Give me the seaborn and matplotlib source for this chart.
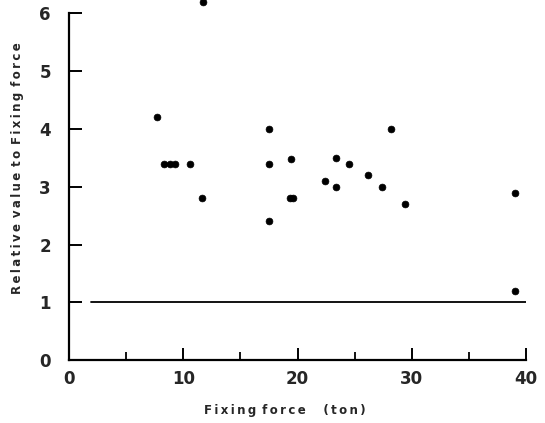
import matplotlib
matplotlib.use("Agg")
import matplotlib.pyplot as plt
import seaborn as sns
import pandas as pd
from matplotlib.ticker import MultipleLocator

# Data
fixing_force = [7.7, 8.3, 8.8, 9.25, 10.6, 11.65, 11.7,
                17.5, 17.5, 17.5, 19.45, 19.3, 19.6,
                22.4, 23.4, 23.4, 24.5, 26.15, 28.15, 27.4, 29.4,
                39.0, 39.0]
relative_value = [4.2, 3.4, 3.4, 3.4, 3.4, 2.8, 6.2,
                  4.0, 3.4, 2.4, 3.48, 2.8, 2.8,
                  3.1, 3.5, 3.0, 3.4, 3.2, 4.0, 3.0, 2.7,
                  2.9, 1.2]
ref_x = [1.9, 40.0]
ref_y = [1.0, 1.0]
x_ticks = [0, 10, 20, 30, 40]
y_ticks = [0, 1, 2, 3, 4, 5, 6]

sns.set_theme(style="white")
plt.rcParams['font.family'] = ['DejaVu Sans']

fig = plt.figure(figsize=(5.45, 4.23), dpi=100)
ax = fig.add_axes([69/545, 1-360/423, (526-69)/545, (360-13.5)/423])

df = pd.DataFrame({"x": fixing_force, "y": relative_value})
sns.scatterplot(data=df, x="x", y="y", color="black", s=24, edgecolor="black",
                linewidth=0.5, ax=ax, clip_on=False, zorder=3)
sns.lineplot(x=ref_x, y=ref_y, color="black", linewidth=1.3, ax=ax)

ax.set_xlim(0, 40)
ax.set_ylim(0, 6)
ax.set_xticks(x_ticks)
ax.set_yticks(y_ticks)
ax.xaxis.set_minor_locator(MultipleLocator(5))

for s in ["top", "right"]:
    ax.spines[s].set_visible(False)
for s in ["left", "bottom"]:
    ax.spines[s].set_linewidth(1.6)
    ax.spines[s].set_color("black")

ax.tick_params(axis="both", which="major", direction="in", length=9, width=1.4,
               color="black", labelsize=12)
ax.tick_params(axis="y", which="major", pad=13, left=True)
ax.tick_params(axis="x", which="major", pad=7, bottom=True)
ax.tick_params(axis="x", which="minor", direction="in", length=6, width=1.3,
               color="black", bottom=True)
for lab in ax.get_xticklabels() + ax.get_yticklabels():
    lab.set_fontweight("bold")

def spaced(text):
    words = text.split(" ")
    return "\u2002".join("\u2009".join(w) for w in words)

ax.set_xlabel(spaced("Fixing force") + "\u2003\u2002" + spaced("(ton)"),
              fontsize=8.5, fontweight="bold")
ax.set_ylabel(spaced("Relative value to Fixing force"),
              fontsize=8.5, fontweight="bold")
ax.xaxis.set_label_coords((285-69)/457, -(404-360)/346.5)
ax.yaxis.set_label_coords(-(69-24)/457, (360-168)/346.5)

fig.savefig("out.png", dpi=100)
